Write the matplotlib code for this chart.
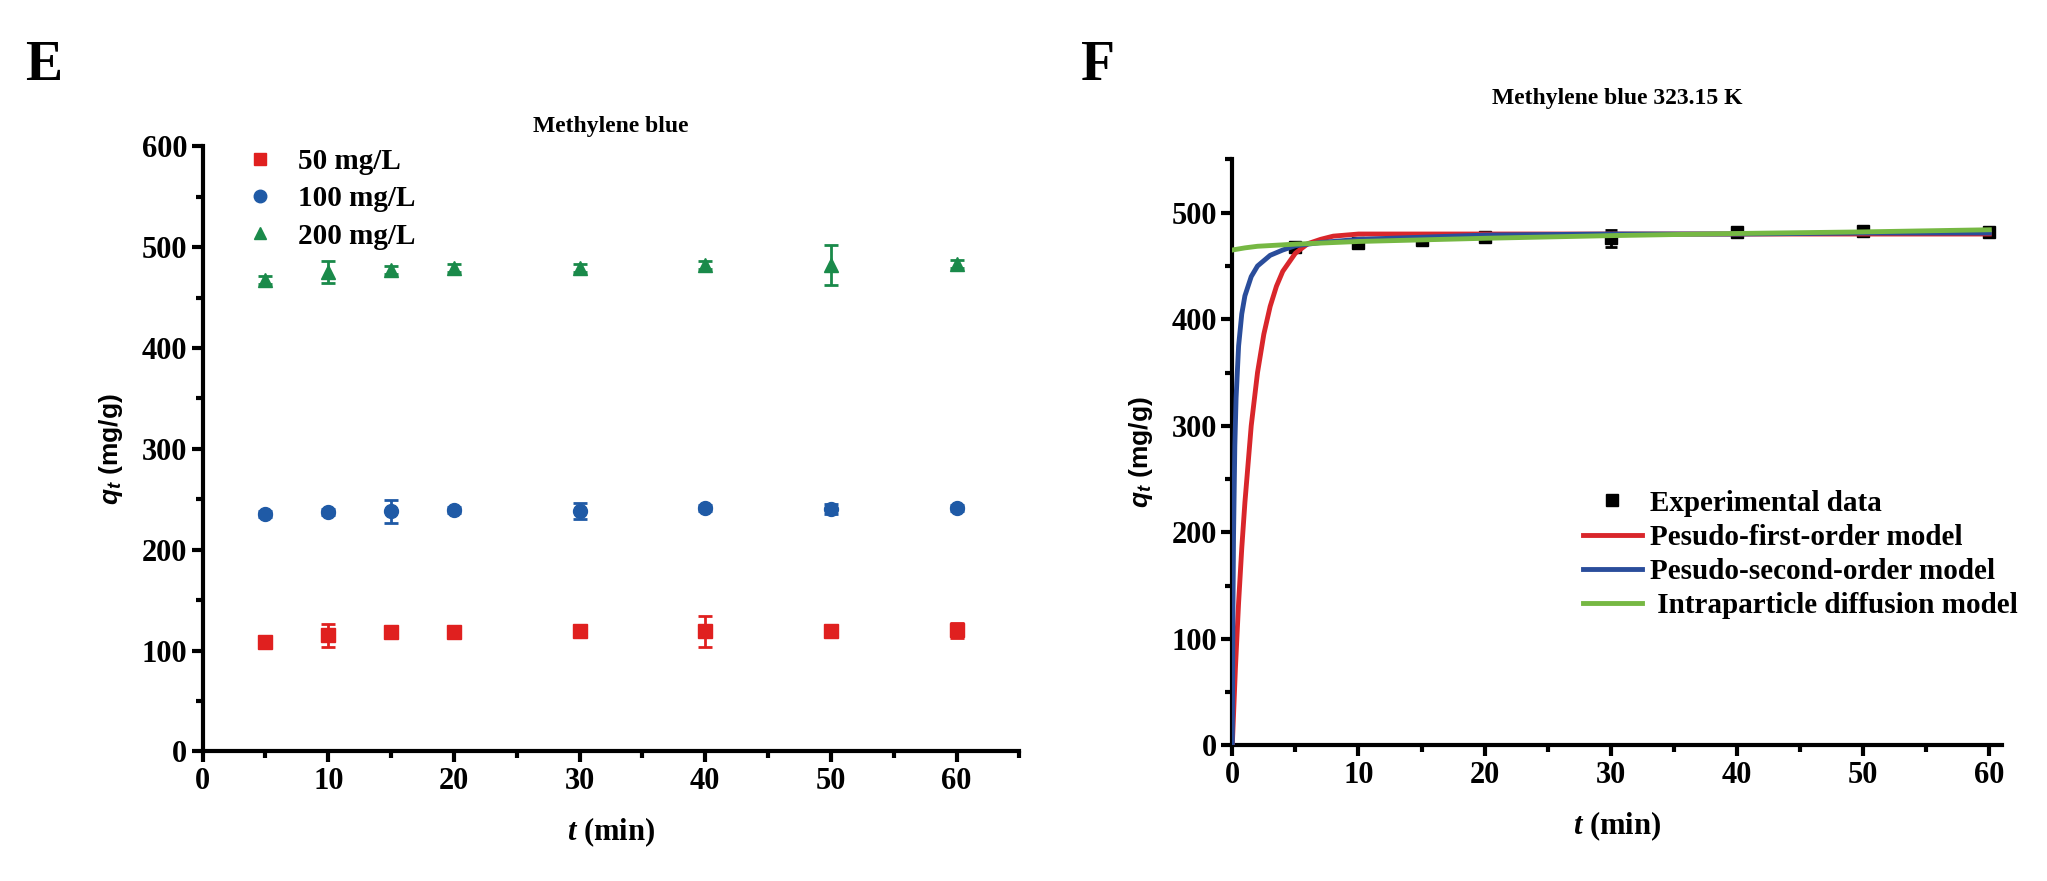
import matplotlib
matplotlib.use('Agg')
import matplotlib.pyplot as plt
from matplotlib.ticker import MultipleLocator
from matplotlib.lines import Line2D

plt.rcParams['font.family'] = ['Liberation Serif', 'DejaVu Serif']
plt.rcParams['font.weight'] = 'bold'
plt.rcParams['mathtext.fontset'] = 'custom'
plt.rcParams['mathtext.it'] = 'Liberation Serif:italic:bold'
plt.rcParams['mathtext.rm'] = 'Liberation Serif:bold'
plt.rcParams['mathtext.sf'] = 'Liberation Sans:italic:bold'

# ---- panel E data ----
t_e = [5, 10, 15, 20, 30, 40, 50, 60]
q50 = [109, 115, 118, 118, 119, 119, 119, 120]
q50_err = [3, 11, 3, 3, 3, 15, 3, 7]
q100 = [235, 237, 238, 239, 238, 241, 240, 241]
q100_err = [3, 3, 11, 3, 8, 3, 5, 3]
q200 = [467, 475, 477, 479, 479, 482, 482, 483]
q200_err = [4, 11, 4, 4, 4, 4, 20, 4]
labels_e = ['50 mg/L', '100 mg/L', '200 mg/L']

# ---- panel F data ----
t_exp = [5, 10, 15, 20, 30, 40, 50, 60]
q_exp = [468, 472, 474, 477, 476, 482, 483, 482]
q_exp_err = [2, 2, 2, 3, 8, 2, 2, 2]

t_pfo = [0, 0.25, 0.5, 0.75, 1, 1.5, 2, 2.5, 3, 3.5, 4, 5, 6, 7, 8, 10, 20, 30, 40, 50, 60]
q_pfo = [0, 73, 134, 185, 228, 300, 350, 386, 412, 431, 445, 462, 471, 475, 478, 480, 480, 480, 480, 480, 480]

t_pso = [0, 0.05, 0.1, 0.2, 0.3, 0.5, 0.75, 1, 1.5, 2, 3, 4, 5, 7, 10, 20, 30, 40, 50, 60]
q_pso = [0, 125, 198, 281, 326, 375, 405, 422, 440, 450, 460, 465, 469, 472, 475, 479, 480, 480, 481, 481]

t_ipd = [0, 1, 2, 5, 10, 20, 30, 40, 50, 60]
q_ipd = [465, 467, 468.5, 470.5, 473, 476, 478.5, 480.5, 482, 484]

labels_f = ['Experimental data', 'Pesudo-first-order model', 'Pesudo-second-order model',
            ' Intraparticle diffusion model']

fig = plt.figure(figsize=(20.47, 8.81), dpi=100)


def style(ax):
    for s in ['top', 'right']:
        ax.spines[s].set_visible(False)
    for s in ['left', 'bottom']:
        ax.spines[s].set_linewidth(3)
    ax.tick_params(which='major', direction='out', length=8, width=3, labelsize=22, pad=3)
    ax.tick_params(which='minor', direction='out', length=5, width=3)
    for lab in ax.get_xticklabels() + ax.get_yticklabels():
        lab.set_fontweight('bold')


# ---- E ----
axE = fig.add_axes([0.099, 0.147, 0.399, 0.687])
cols_e = ['#e0201f', '#1f5aa6', '#1a8a4a']
marks_e = ['s', 'o', '^']
for q, err, c, m in zip([q50, q100, q200], [q50_err, q100_err, q200_err], cols_e, marks_e):
    axE.errorbar(t_e, q, yerr=err, fmt=m, color=c, ms=10, capsize=5, elinewidth=2, capthick=2)
axE.set_xlim(0, 65)
axE.set_ylim(0, 600)
axE.xaxis.set_major_locator(MultipleLocator(10))
axE.xaxis.set_minor_locator(MultipleLocator(5))
axE.yaxis.set_major_locator(MultipleLocator(100))
axE.yaxis.set_minor_locator(MultipleLocator(50))
style(axE)
axE.set_title('Methylene blue', fontsize=17, fontweight='bold', pad=10)
axE.set_xlabel(r'$t$ (min)', fontsize=22, fontweight='bold', labelpad=14)
axE.set_ylabel(r'$\mathsf{q}_{\mathsf{t}}$ (mg/g)', fontsize=19, fontweight='bold',
               family='Liberation Sans', labelpad=12)
h_e = [Line2D([], [], ls='none', marker=m, color=c, ms=9) for m, c in zip(marks_e, cols_e)]
axE.legend(h_e, labels_e, loc='upper left', bbox_to_anchor=(0.02, 1.04), frameon=False, fontsize=21,
           handletextpad=0.8, labelspacing=0.35, handlelength=1.0)

# ---- F ----
axF = fig.add_axes([0.602, 0.154, 0.376, 0.665])
axF.errorbar(t_exp, q_exp, yerr=q_exp_err, fmt='s', color='black', ms=8, capsize=4, elinewidth=2, capthick=2,
             zorder=2)
axF.plot(t_pfo, q_pfo, color='#d9262b', lw=3.5, zorder=3)
axF.plot(t_pso, q_pso, color='#2a4d9b', lw=3.5, zorder=4)
axF.plot(t_ipd, q_ipd, color='#76b843', lw=3.5, zorder=5)
axF.set_xlim(0, 61)
axF.set_ylim(0, 550)
axF.xaxis.set_major_locator(MultipleLocator(10))
axF.xaxis.set_minor_locator(MultipleLocator(5))
axF.yaxis.set_major_locator(MultipleLocator(100))
axF.yaxis.set_minor_locator(MultipleLocator(50))
style(axF)
axF.set_title('Methylene blue 323.15 K', fontsize=17, fontweight='bold', pad=40)
axF.set_xlabel(r'$t$ (min)', fontsize=22, fontweight='bold', labelpad=14)
axF.set_ylabel(r'$\mathsf{q}_{\mathsf{t}}$ (mg/g)', fontsize=19, fontweight='bold',
               family='Liberation Sans', labelpad=12)
h_f = [Line2D([], [], ls='none', marker='s', color='black', ms=8),
       Line2D([], [], color='#d9262b', lw=3.5),
       Line2D([], [], color='#2a4d9b', lw=3.5),
       Line2D([], [], color='#76b843', lw=3.5)]
axF.legend(h_f, labels_f, loc='lower right', bbox_to_anchor=(1.055, 0.17), frameon=False, fontsize=21,
           handletextpad=0.3, labelspacing=0.25, handlelength=2.0)

fig.text(0.012, 0.955, 'E', fontsize=40, fontweight='bold', va='top')
fig.text(0.528, 0.955, 'F', fontsize=40, fontweight='bold', va='top')

fig.savefig('out.png', dpi=100)
